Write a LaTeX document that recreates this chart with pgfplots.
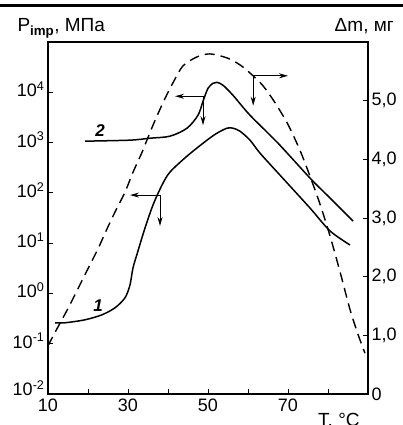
\documentclass[border=0pt]{standalone}
\usepackage{fontspec}
\setmainfont{Liberation Sans}
\usepackage{pgfplots}
\pgfplotsset{compat=1.18}
\usetikzlibrary{arrows.meta}

\begin{document}
\begin{tikzpicture}
\useasboundingbox (0,0) rectangle (403pt,-425pt);
\draw[line width=2.5pt] (0,-5.5pt) -- (403pt,-5.5pt);

\tikzset{arr/.style={-{Stealth[length=9pt,width=5pt]}, line width=1pt}}
\pgfplotsset{
  common/.style={
    scale only axis, width=320pt, height=352pt,
    at={(48pt,-394pt)}, anchor=south west,
    xmin=10, xmax=90,
    axis line style={line width=1.2pt},
    tick style={line width=1pt, black},
    major tick length=5pt,
    tick label style={font=\fontsize{18}{20}\selectfont},
  },
  curve/.style={black, line width=1.5pt, smooth, no marks},
}

% left axis: P_imp, log scale
\begin{axis}[common,
  ymode=log, ymin=1e-2, ymax=1e5,
  ytick={1e-2,1e-1,1,10,100,1000,10000},
  yticklabels={\raisebox{6pt}{10\textsuperscript{-2}},10\textsuperscript{-1},10\textsuperscript{0},10\textsuperscript{1},10\textsuperscript{2},10\textsuperscript{3},10\textsuperscript{4}},
  yminorticks=false,
  ytick pos=left, xtick pos=bottom,
  xtick={10,20,...,90},
  xticklabels={10,,30,,50,,70,,},
  yticklabel style={yshift=3pt},
  xticklabel style={yshift=-1pt},
]
% curve 1
\addplot[curve] coordinates {
(11.75,0.261) (14.25,0.261) (19.25,0.299) (23.5,0.376) (26.75,0.518)
(29.25,0.819) (30.5,1.48) (31.25,3.22) (32.5,7.0) (34.25,20.0)
(36.25,57.3) (38.5,143) (40.5,259) (44.75,537) (49.75,1117)
(52.25,1538) (54.75,1932) (56.25,1932) (58.0,1683) (60.5,1117)
(63.0,617) (68.0,225) (75.5,49.9) (80.5,17.5) (85.5,9.2)
};
% curve 2
\addplot[curve] coordinates {
(19.25,1067) (30.5,1117) (35.5,1222) (40.5,1340) (44.75,1932)
(47.5,3500) (48.75,6620) (50.0,12000) (51.25,15100) (52.25,15800)
(53.75,13800) (56.25,8710) (60.5,3500) (67.5,973) (75.5,197)
(80.5,79) (86.25,27.5)
};
\node[font=\fontsize{17}{19}\selectfont\bfseries\itshape] at (axis cs:23,1762) {2};
\node[font=\fontsize{17}{19}\selectfont\bfseries\itshape] at (axis cs:22.5,0.568) {1};
\draw[arr] (axis cs:38,90.4) -- (axis cs:30.5,90.4);
\draw[arr] (axis cs:38,90.4) -- (axis cs:38,21.9);
\draw[arr] (axis cs:48.75,8337) -- (axis cs:41.75,8337);
\draw[arr] (axis cs:48.75,8337) -- (axis cs:48.75,2213);
\end{axis}

% right axis: mass loss
\begin{axis}[common,
  ymin=0, ymax=6,
  hide x axis, axis y line*=right,
  ytick={0,1,2,3,4,5},
  yticklabels={0,{1,0},{2,0},{3,0},{4,0},{5,0}},
]
\addplot[black, line width=1.4pt, smooth, no marks, dash pattern=on 10pt off 6pt] coordinates {
(10.0,0.82) (11.75,1.05) (15.0,1.458) (17.5,1.797) (20.0,2.136)
(22.5,2.475) (24.75,2.814) (26.75,3.102) (29.25,3.441) (31.25,3.780)
(33.5,4.119) (36.0,4.542) (38.75,4.966) (41.25,5.305) (43.75,5.593)
(47.25,5.746) (50.5,5.797) (54.75,5.729) (58.0,5.610) (61.0,5.441)
(63.75,5.254) (66.75,4.966) (70.0,4.593) (73.0,4.153) (75.5,3.712)
(78.0,3.237) (80.5,2.695) (83.0,2.085) (85.5,1.441) (87.5,1.017)
(89.25,0.695)
};
\draw[arr] (axis cs:61.3,5.424) -- (axis cs:70,5.424);
\draw[arr] (axis cs:61.3,5.424) -- (axis cs:61.3,4.915);
\end{axis}

\node[anchor=base west, font=\fontsize{19}{21}\selectfont] at (14pt,-32pt) {P\textsubscript{\textbf{imp}}, МПа};
\node[anchor=base east, inner sep=0pt, font=\fontsize{19}{21}\selectfont] at (394pt,-32pt) {Δm, мг};
\node[anchor=base west, inner sep=0pt, font=\fontsize{19}{21}\selectfont] at (318pt,-426pt) {T, °C};
\end{tikzpicture}
\end{document}
